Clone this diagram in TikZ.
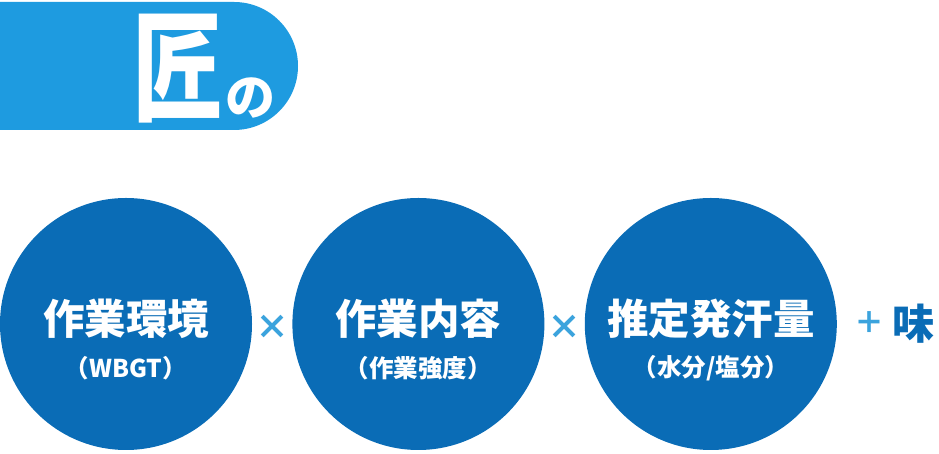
\documentclass[tikz,border=0pt]{standalone}
\usepackage{fontspec}
\newfontfamily\jpfont{Noto Sans CJK JP}
\usetikzlibrary{positioning, calc}
\definecolor{bannerblue}{HTML}{1E9BE0}
\definecolor{circleblue}{HTML}{0A6CB6}
\definecolor{signblue}{HTML}{3BA3DD}
\tikzstyle{factor} = [circle, fill=circleblue, minimum size=252pt, inner sep=0pt]
\tikzstyle{maintext} = [text=white, font=\jpfont\bfseries\fontsize{41.5}{41.5}\selectfont, inner sep=0pt]
\tikzstyle{subtext} = [text=white, font=\jpfont\bfseries\fontsize{24.5}{24.5}\selectfont, inner sep=0pt]
\tikzstyle{sign} = [text=signblue, font=\jpfont\bfseries\fontsize{34}{34}\selectfont, inner sep=0pt]
\begin{document}
\begin{tikzpicture}[x=1pt, y=1pt]
    \useasboundingbox (0,0) rectangle (939,454);

    % Title banner
    \fill[bannerblue] (0,452) -- (234,452) arc[start angle=90, end angle=-90, radius=64] -- (0,324) -- cycle;
    \node (takumi) [text=white, inner sep=0pt, font=\jpfont\bfseries\fontsize{120}{120}\selectfont] at (177,385) {\scalebox{0.75}[1]{匠}};
    \node (no) [text=white, inner sep=0pt, font=\jpfont\bfseries\fontsize{50}{50}\selectfont] at (250,356) {の};

    % Factors
    \node (env) [factor] at (126,130) {};
    \node (work) [factor, right=40pt of env] {};
    \node (sweat) [factor, right=40pt of work] {};

    \node (envtitle) [maintext] at ([yshift=5pt]env.center) {作業環境};
    \node (envsub) [subtext] at ([yshift=-44pt]env.center) {（WBGT）};
    \node (worktitle) [maintext] at ([yshift=5pt]work.center) {作業内容};
    \node (worksub) [subtext] at ([yshift=-44pt]work.center) {（作業強度）};
    \node (sweattitle) [maintext] at ([yshift=5pt]sweat.center) {推定発汗量};
    \node (sweatsub) [subtext] at ([yshift=-44pt]sweat.center) {（水分/塩分）};

    % Operators
    \node (times1) [sign] at ($(env.east)!0.5!(work.west)+(0,-3)$) {×};
    \node (times2) [sign] at ($(work.east)!0.5!(sweat.west)+(0,-3)$) {×};
    \node (plus) [sign, font=\jpfont\bfseries\fontsize{30}{30}\selectfont] at ($(sweat.east)+(32,1)$) {＋};
    \node (aji) [text=circleblue, inner sep=0pt, font=\jpfont\bfseries\fontsize{42}{42}\selectfont] at (913,130) {味};

\end{tikzpicture}
\end{document}
